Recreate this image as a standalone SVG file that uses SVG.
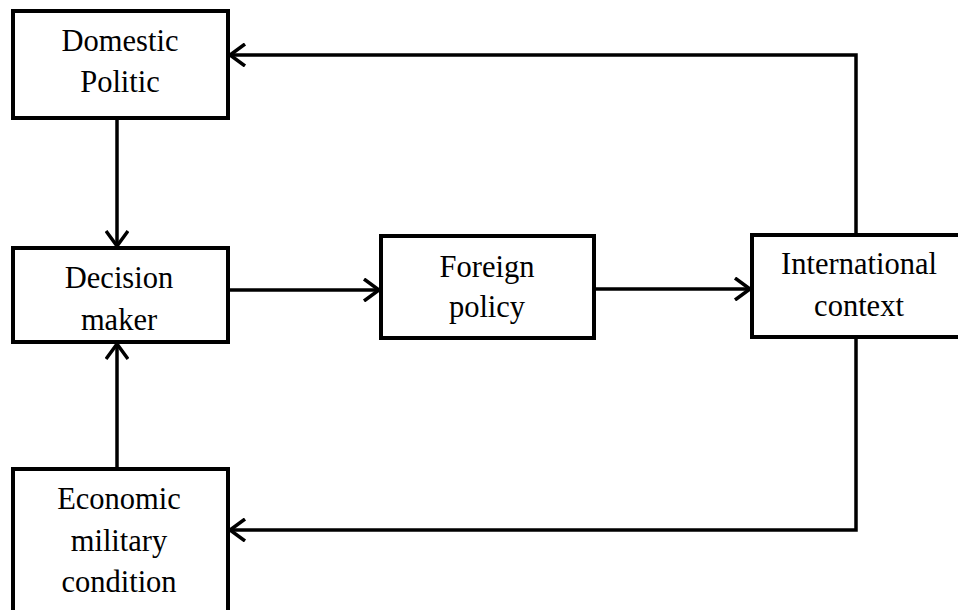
<svg xmlns="http://www.w3.org/2000/svg" width="958" height="610" viewBox="0 0 958 610">
<style>
.box{fill:#fff;stroke:#000;stroke-width:4}
.lbl{font-family:"Liberation Serif","Times New Roman",serif;font-size:30.5px;fill:#000;text-anchor:middle}
.con{fill:none;stroke:#000;stroke-width:3.5}
</style>
<defs>
<marker id="ah" markerWidth="20" markerHeight="24" viewBox="-17 -12 20 24" refX="0" refY="0" orient="auto" markerUnits="userSpaceOnUse">
<path d="M-15,-11 L0,0 L-15,11" fill="none" stroke="#000" stroke-width="3.5"/>
</marker>
</defs>
<rect width="958" height="610" fill="#fff"/>
<g id="connectors">
<path class="con" d="M117,118 V246" marker-end="url(#ah)"/>
<path class="con" d="M117,469 V344" marker-end="url(#ah)"/>
<path class="con" d="M228,290 H379" marker-end="url(#ah)"/>
<path class="con" d="M594,289 H750" marker-end="url(#ah)"/>
<path class="con" d="M856,235 V55 H230" marker-end="url(#ah)"/>
<path class="con" d="M856,337 V530 H230" marker-end="url(#ah)"/>
</g>
<g id="domestic">
<rect class="box" x="13" y="11" width="215" height="107"/>
<text class="lbl" x="120" y="51">Domestic</text>
<text class="lbl" x="120" y="92">Politic</text>
</g>
<g id="decision">
<rect class="box" x="13" y="248" width="215" height="94"/>
<text class="lbl" x="119" y="288">Decision</text>
<text class="lbl" x="119" y="330">maker</text>
</g>
<g id="foreign">
<rect class="box" x="381" y="236" width="213" height="102"/>
<text class="lbl" x="487" y="277">Foreign</text>
<text class="lbl" x="487" y="317">policy</text>
</g>
<g id="international">
<rect class="box" x="752" y="235" width="210" height="102"/>
<text class="lbl" x="859" y="274">International</text>
<text class="lbl" x="859" y="316">context</text>
</g>
<g id="economic">
<rect class="box" x="13" y="469" width="215" height="150"/>
<text class="lbl" x="119" y="509">Economic</text>
<text class="lbl" x="119" y="551">military</text>
<text class="lbl" x="119" y="592">condition</text>
</g>
</svg>
